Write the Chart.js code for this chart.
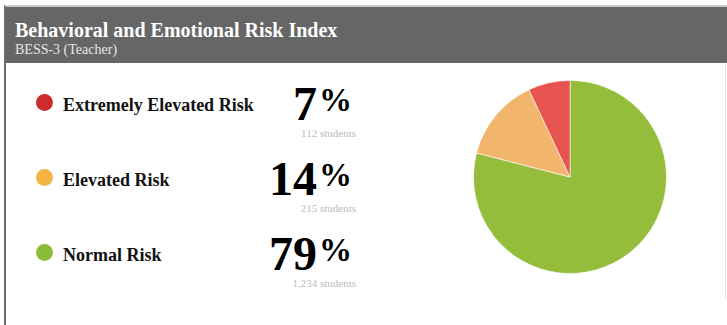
<!DOCTYPE html>
<html>
<head>
<meta charset="utf-8">
<script src="https://cdn.jsdelivr.net/npm/chart.js@4"></script>
<style>
    body {
        margin: 0;
        width: 727px;
        height: 325px;
        background: #fff;
        font-family: "Liberation Serif", "Times New Roman", serif;
        overflow: hidden;
        position: relative;
    }
    .panel {
        position: absolute;
        left: 4px;
        top: 5px;
        width: 740px;
        height: 340px;
        border-left: 2px solid #6e6e6e;
        border-top: 2px solid #c8c8c8;
    }
    .panel-head {
        background: #666;
        height: 56px;
        color: #fff;
        padding-left: 9px;
        box-sizing: border-box;
    }
    .panel-head h1 {
        margin: 0;
        padding-top: 12px;
        font-size: 20px;
        line-height: 22px;
        font-weight: bold;
    }
    .panel-head .sub {
        font-size: 14px;
        line-height: 17px;
        color: #e6e6e6;
    }
    .right-edge {
        position: absolute;
        left: 725px;
        top: 63px;
        width: 1px;
        height: 235px;
        background: #e0e0e0;
    }
    .row {
        position: absolute;
        left: 0;
        width: 360px;
        height: 70px;
    }
    .dot {
        position: absolute;
        left: 36px;
        width: 17px;
        height: 17px;
        border-radius: 50%;
    }
    .label {
        position: absolute;
        left: 63px;
        font-size: 18px;
        font-weight: bold;
        color: #111;
        white-space: nowrap;
    }
    .pct {
        position: absolute;
        right: 8px;
        font-size: 48px;
        font-weight: bold;
        color: #000;
        line-height: 48px;
        white-space: nowrap;
    }
    .pct sup {
        font-size: 33px;
        vertical-align: 0;
        position: relative;
        top: -9px;
        margin-left: 2px;
    }
    .count {
        position: absolute;
        right: 4px;
        font-size: 11px;
        color: #bbb;
        white-space: nowrap;
    }
    #riskChart {
        position: absolute;
        left: 473px;
        top: 80px;
    }
</style>
</head>
<body>
<div class="panel">
    <div class="panel-head">
        <h1>Behavioral and Emotional Risk Index</h1>
        <div class="sub">BESS-3 (Teacher)</div>
    </div>
</div>
<div class="right-edge"></div>
<div id="legend"></div>
<canvas id="riskChart" width="194" height="194"></canvas>

<script>
// Risk groups, top to bottom as listed
const categories = ['Extremely Elevated Risk', 'Elevated Risk', 'Normal Risk'];
const percents = [7, 14, 79];
const studentCounts = ['112', '215', '1,234'];
const dotColors = ['#cd2c2c', '#f2b545', '#8dbb3a'];
const sliceColors = ['#e5544f', '#f1b66b', '#93bd3b'];

document.addEventListener('DOMContentLoaded', function() {
    // Legend rows with big percentages
    const legend = document.getElementById('legend');
    categories.forEach((name, i) => {
        const top = 75 + i * 75;
        const row = document.createElement('div');
        row.className = 'row';
        row.style.top = top + 'px';
        row.innerHTML =
            '<div class="dot" style="top:19px;background:' + dotColors[i] + '"></div>' +
            '<div class="label" style="top:20px">' + name + '</div>' +
            '<div class="pct" style="top:5px">' + percents[i] + '<sup>%</sup></div>' +
            '<div class="count" style="top:52px">' + studentCounts[i] + ' students</div>';
        legend.appendChild(row);
    });

    // Pie goes clockwise from 12 o'clock: normal, elevated, extremely elevated
    const order = [2, 1, 0];
    const ctx = document.getElementById('riskChart').getContext('2d');
    new Chart(ctx, {
        type: 'pie',
        data: {
            labels: order.map(i => categories[i]),
            datasets: [{
                data: order.map(i => percents[i]),
                backgroundColor: order.map(i => sliceColors[i]),
                borderColor: 'rgba(255, 255, 255, 0.6)',
                borderWidth: 1,
                hoverOffset: 0
            }]
        },
        options: {
            responsive: false,
            animation: false,
            layout: { padding: 0 },
            plugins: {
                legend: { display: false },
                tooltip: { enabled: false }
            }
        }
    });
});
</script>
</body>
</html>
